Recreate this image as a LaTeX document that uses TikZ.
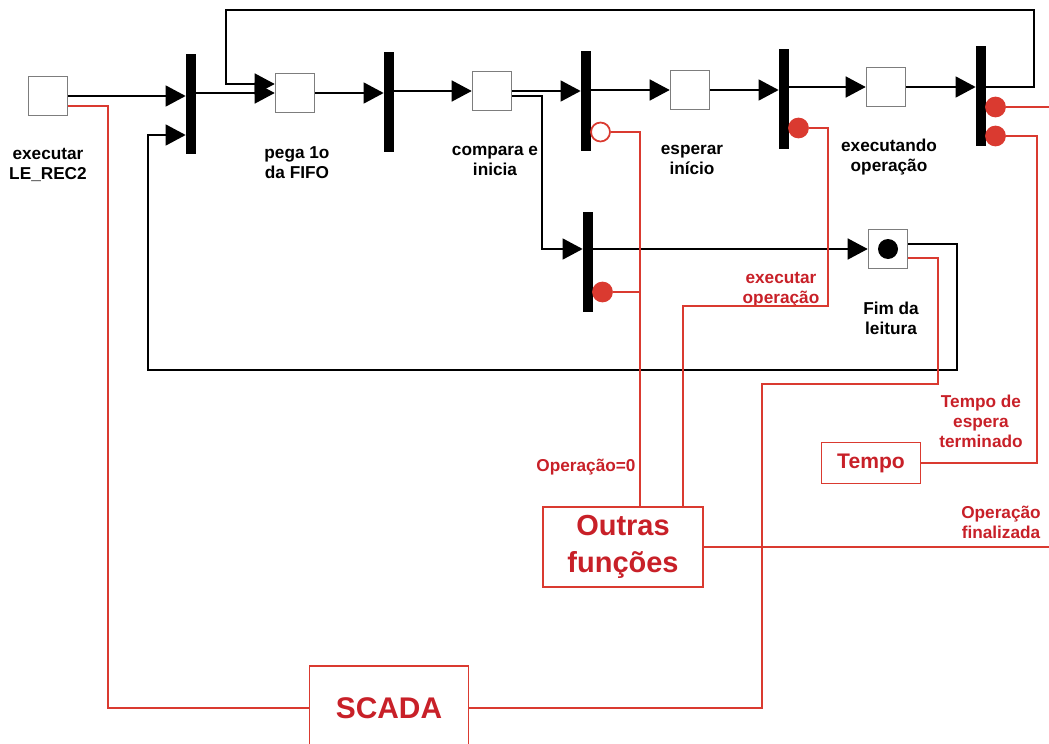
\documentclass[tikz,border=0pt]{standalone}
\usepackage{fontspec}
\setmainfont{Liberation Sans}
\usepackage{tikz}
\usetikzlibrary{arrows.meta,calc}
\definecolor{sinalred}{RGB}{218,58,48}
\definecolor{textored}{RGB}{200,32,40}
\definecolor{caixagray}{RGB}{125,125,125}

\tikzset{
  lugar/.style={draw=caixagray,line width=0.9pt,fill=white,minimum size=0.78cm,inner sep=0pt},
  trans/.style={fill=black,minimum width=0.2cm,minimum height=2cm,inner sep=0pt},
  ativa/.style={circle,draw=sinalred,fill=sinalred,line width=1pt,minimum size=0.38cm,inner sep=0pt},
  inibe/.style={ativa,fill=white},
  rotulo/.style={font=\bfseries\fontsize{9.8}{11.4}\selectfont,align=center},
  rotred/.style={rotulo,text=textored},
  bloco/.style={draw=sinalred,line width=1pt,fill=white,text=textored,
    font=\bfseries\fontsize{16.5}{21}\selectfont,align=center,inner sep=0pt},
  arr/.style={-{Triangle[length=0.4cm,width=0.42cm]},line width=0.8pt},
  sig/.style={sinalred,line width=1pt},
}

\begin{document}
\begin{tikzpicture}[x=0.02cm,y=-0.02cm]
    \useasboundingbox (0,0) rectangle (1049,744);

    % Places
    \node[lugar] (p0) at (48,96) {};
    \node[lugar] (p1) at (295,93) {};
    \node[lugar] (p2) at (492,91) {};
    \node[lugar] (p3) at (690,90) {};
    \node[lugar] (p4) at (886,87) {};
    \node[lugar] (p5) at (888,249) {};
    \node[circle,fill=black,minimum size=0.4cm,inner sep=0pt] (tok) at (p5) {};

    % Transitions
    \node[trans] (t1) at (191,104) {};
    \node[trans] (t2) at (389,102) {};
    \node[trans] (t3) at (586,101) {};
    \node[trans] (t4) at (588,262) {};
    \node[trans] (t5) at (784,99) {};
    \node[trans] (t6) at (981,96) {};

    % Enabling / inhibiting arcs
    \node[inibe] (c3) at (600.5,132) {};
    \node[ativa] (c4) at (602.5,292) {};
    \node[ativa] (c5) at (798.5,128) {};
    \node[ativa] (c6a) at (995.5,107) {};
    \node[ativa] (c6b) at (995.5,136) {};

    % Outer blocks
    \node[bloco,minimum width=3.2cm,minimum height=1.6cm] (outras) at (623,547) {Outras\\funções};
    \node[bloco,minimum width=1.98cm,minimum height=0.82cm,font=\bfseries\fontsize{12}{14}\selectfont] (tempo) at (871,463) {Tempo};
    \node[bloco,minimum width=3.18cm,minimum height=1.68cm,font=\bfseries\fontsize{17}{21}\selectfont] (scada) at (389,708) {SCADA};

    % Labels
    \node[rotulo] (l0) at (48,165) {executar\\LE\_REC2};
    \node[rotulo] (l1) at (297,163) {pega 1o\\da FIFO};
    \node[rotulo] (l2) at (495,161) {compara e\\inicia};
    \node[rotulo] (l3) at (692,160) {esperar\\início};
    \node[rotulo] (l4) at (889,157) {executando\\operação};
    \node[rotulo] (l5) at (891,318) {Fim da\\leitura};
    \node[rotred] (l6) at (781,290) {executar\\operação};
    \node[rotred] (l7) at (586,467) {Operação=0};
    \node[rotred] (l8) at (981,421) {Tempo de\\espera\\terminado};
    \node[rotred] (l9) at (1001,522) {Operação\\finalizada};

    % Corner points
    \coordinate (topR) at (1034,10);
    \coordinate (topL) at (226,10);
    \coordinate (fbR) at (957,370);
    \coordinate (fbL) at (148,370);
    \coordinate (sp) at (542,249);
    \coordinate (k1) at (828,306);
    \coordinate (k2) at (1037,463);
    \coordinate (k3) at (938,384);
    \coordinate (k4) at (762,708);
    \coordinate (rA) at (108,708);
    \coordinate (fin) at (1052,547);

    % Main flow
    \draw[arr] (p0.east) -- (p0.east -| t1.west);
    \draw[arr] (t1.east |- p1.west) -- (p1.west);
    \draw[arr] (p1.east) -- (p1.east -| t2.west);
    \draw[arr] (t2.east |- p2.west) -- (p2.west);
    \draw[arr] (p2.east) -- (p2.east -| t3.west);
    \draw[arr] ($(p2.east)+(0,5)$) -| (sp) -- (sp -| t4.west);
    \draw[arr] (t3.east |- p3.west) -- (p3.west);
    \draw[arr] (p3.east) -- (p3.east -| t5.west);
    \draw[arr] (t5.east |- p4.west) -- (p4.west);
    \draw[arr] (p4.east) -- (p4.east -| t6.west);
    \draw[arr] (t4.east |- p5.west) -- (p5.west);

    % Loops back
    \draw[arr] (t6.east |- p4.east) -| (topR) -- (topL) |- ($(p1.west)+(0,-9)$);
    \draw[arr] ($(p5.east)+(0,-5)$) -| (fbR) -- (fbL) |- ($(t1.west)+(0,31)$);

    % Signals
    \draw[sig] ($(p0.east)+(0,10)$) -| (rA) -- (scada.west);
    \draw[sig] (c3.east) -| ($(outras.north)+(17,0)$);
    \draw[sig] (c4.east) -- ($(c4.east -| outras.north)+(17,0)$);
    \draw[sig] (c5.east) -| (k1) -| ($(outras.north)+(60,0)$);
    \draw[sig] (outras.east) -- (fin);
    \draw[sig] (c6a.east) -- (c6a.east -| fin);
    \draw[sig] (c6b.east) -| (k2) -- (tempo.east);
    \draw[sig] ($(p5.east)+(0,9)$) -| (k3) -| (k4) -- (scada.east);
\end{tikzpicture}
\end{document}
